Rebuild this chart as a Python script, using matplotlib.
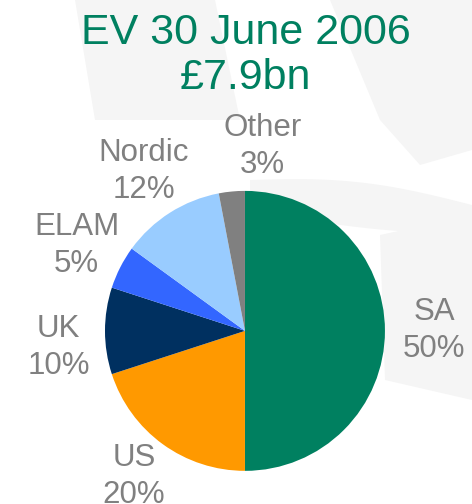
import matplotlib.pyplot as plt
from matplotlib.patches import Polygon
import numpy as np

# data
regions = ['SA', 'US', 'UK', 'ELAM', 'Nordic', 'Other']
shares = [50, 20, 10, 5, 12, 3]
colors = ['#008060', '#FF9900', '#003060', '#3366FF', '#99CCFF', '#808080']
title = 'EV 30 June 2006\n£7.9bn'

plt.rcParams['font.family'] = ['Liberation Sans', 'DejaVu Sans']

fig = plt.figure(figsize=(4.72, 5.04), dpi=100)

# faint watermark shapes in the background
bg = fig.add_axes([0, 0, 1, 1], zorder=-1)
bg.set_xlim(0, 472)
bg.set_ylim(504, 0)
bg.axis('off')
wm = '#f5f5f5'
bg.add_patch(Polygon([(75, 0), (215, 0), (240, 120), (95, 120)], closed=True, color=wm, lw=0))
bg.add_patch(Polygon([(330, 0), (472, 0), (472, 150), (420, 165), (380, 120)], closed=True, color=wm, lw=0))
t = np.linspace(0, 1, 50)
arc_top = [(250 + 222 * s, 180 + 25 * s - 10 * np.sin(np.pi * s)) for s in t]
arc_bot = [(472 - 222 * s, 235 - 25 * s + 5 * np.sin(np.pi * s)) for s in t]
bg.add_patch(Polygon(arc_top + arc_bot, closed=True, color=wm, lw=0))
bg.add_patch(Polygon([(380, 235), (472, 215), (472, 400), (385, 380)], closed=True, color=wm, lw=0))

ax = fig.add_axes([0.0445, -0.101, 0.949, 0.889])
wedges, texts = ax.pie(shares, colors=colors, startangle=90, counterclock=False,
                       labels=[f'{r}\n{s}%' for r, s in zip(regions, shares)],
                       labeldistance=1.35,
                       wedgeprops=dict(linewidth=0),
                       textprops=dict(fontsize=22.5, color='#808080', linespacing=1.3))
for txt in texts:
    txt.set_horizontalalignment('center')
    txt.set_verticalalignment('center')
# "Other" label sits a little to the right of its slice, UK slightly lower
x, y = texts[-1].get_position()
texts[-1].set_position((x + 0.25, y - 0.03))
x, y = texts[2].get_position()
texts[2].set_position((x + 0.02, y - 0.12))
x, y = texts[1].get_position()
texts[1].set_position((x, y + 0.05))
ax.set_xlim(-1.6, 1.6)
ax.set_ylim(-1.6, 1.6)
ax.set_aspect('equal')
ax.axis('off')

fig.text(0.521, 0.89, title, ha='center', va='center', fontsize=31,
         color='#008060', linespacing=1.17)

plt.savefig('out.png', dpi=100)
plt.close()
